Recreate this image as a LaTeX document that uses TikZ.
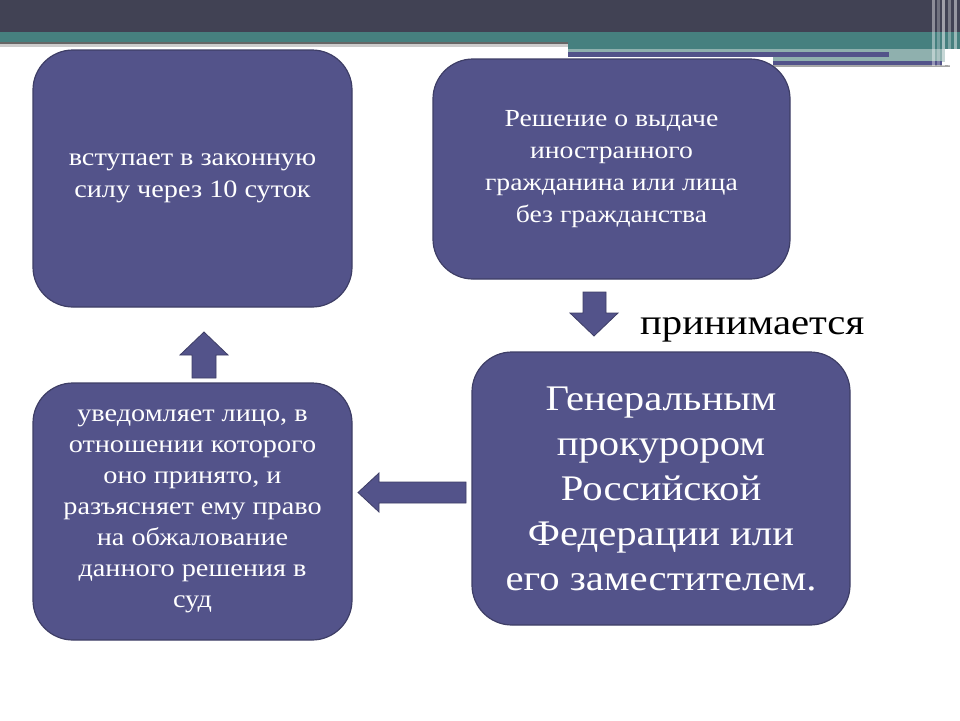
\documentclass[tikz,border=0pt]{standalone}
\usepackage{fontspec}
\setmainfont[FakeStretch=1.13]{Liberation Serif}
\usetikzlibrary{positioning}
\definecolor{boxfill}{RGB}{83,83,138}
\definecolor{boxline}{RGB}{62,62,102}
\definecolor{headdark}{RGB}{65,66,84}
\definecolor{headteal}{RGB}{70,128,127}
\definecolor{headpale}{RGB}{143,176,174}
\tikzset{
  stepbox/.style={draw=boxline, line width=1.2pt, fill=boxfill, rounded corners=40pt,
    text=white, align=center, inner sep=0pt},
  blockarrow/.style={draw=boxline, line width=0.8pt, fill=boxfill, line join=miter},
}
\begin{document}
\begin{tikzpicture}[x=1pt, y=-1pt]
\useasboundingbox (0,0) rectangle (960,720);
% header
\fill[headdark] (0,0) rectangle (960,32);
\fill[headteal] (0,32) rectangle (960,42);
\fill[headteal] (568,42) rectangle (960,49);
\fill[black!60] (0,42) rectangle (568,44);
\fill[black!20] (0,44) rectangle (568,47);
\fill[headpale] (568,49) rectangle (945,62);
\fill[boxfill] (568,52) rectangle (889,57);
\fill[boxfill] (773,61) rectangle (942,65);
\fill[black!35] (773,65) rectangle (950,67);
\fill[white] (568,57) rectangle (773,66);
\foreach \x/\c in {932/40, 937/25, 942/50, 948/30, 954/45} {
  \fill[white, opacity=0.\c] (\x,0) rectangle ++(3,66);
}
% boxes
\node[stepbox, minimum width=319pt, minimum height=257pt,
  font={\fontsize{25}{32}\selectfont}] (force) at (192.5,178.5)
  {вступает в законную\\ силу через 10 суток};
\node[stepbox, minimum width=357pt, minimum height=220pt,
  font={\fontsize{24.5}{32}\selectfont}] (decision) at (611.5,169)
  {Решение о выдаче\\ иностранного\\ гражданина или лица\\ без гражданства};
\node[stepbox, minimum width=378pt, minimum height=273pt,
  font={\fontsize{36}{45}\selectfont}] (prosecutor) at (661,488.5)
  {Генеральным\\ прокурором\\ Российской\\ Федерации или\\ его заместителем.};
\node[stepbox, minimum width=319pt, minimum height=257pt,
  font={\fontsize{25}{31}\selectfont}] (notify) at (192.5,511.5)
  {уведомляет лицо, в\\ отношении которого\\ оно принято, и\\ разъясняет ему право\\ на обжалование\\ данного решения в\\ суд};
\node[anchor=base west, inner sep=0pt, font={\fontsize{36}{40}\selectfont}] (taken) at (640,334)
  {принимается};
% arrows
\draw[blockarrow] (583,292) -- (606,292) -- (606,313) -- (618,313) -- (594,336)
  -- (570,313) -- (583,313) -- cycle;
\draw[blockarrow] (192,378) -- (216,378) -- (216,355) -- (228,355) -- (204,332)
  -- (180,355) -- (192,355) -- cycle;
\draw[blockarrow] (466,482) -- (466,503) -- (379,503) -- (379,512) -- (358,492.5)
  -- (379,473) -- (379,482) -- cycle;
\end{tikzpicture}
\end{document}
